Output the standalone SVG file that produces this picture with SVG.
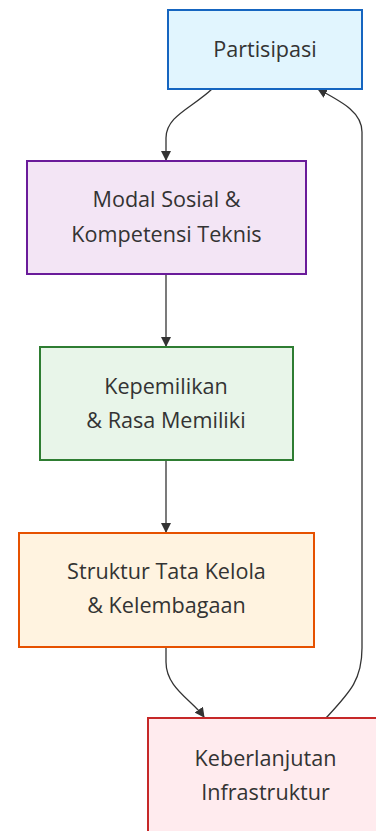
<svg xmlns="http://www.w3.org/2000/svg" width="376" height="831" viewBox="0 0 376 831">
<style>
.lbl{font-family:"Open Sans","Noto Sans","DejaVu Sans",sans-serif;font-size:21.6px;fill:#333;text-anchor:middle}
.edge{fill:none;stroke:#333;stroke-width:1.3}
.box{stroke-width:2}
</style>
<defs>
<marker id="arr" viewBox="0 0 10 10" refX="9" refY="5" markerWidth="10" markerHeight="10" markerUnits="userSpaceOnUse" orient="auto">
<path d="M0,0 L10,5 L0,10 z" fill="#333"/>
</marker>
</defs>
<rect width="376" height="831" fill="#ffffff"/>
<g id="edges">
<path class="edge" d="M212,89 C192,108 166,116 166,138 L166,160" marker-end="url(#arr)"/>
<path class="edge" d="M166,274 L166,346" marker-end="url(#arr)"/>
<path class="edge" d="M166,460 L166,532" marker-end="url(#arr)"/>
<path class="edge" d="M166,647 L166,662 C166,688 192,700 204,717" marker-end="url(#arr)"/>
<path class="edge" d="M326,718 C350,692 362,680 362,648 L362,132 C362,112 342,102 318,89" marker-end="url(#arr)"/>
</g>
<g id="n1">
<rect class="box" x="168" y="10" width="194" height="79" fill="#e1f5fe" stroke="#1565c0"/>
<text class="lbl" x="265" y="57">Partisipasi</text>
</g>
<g id="n2">
<rect class="box" x="27" y="161" width="279" height="113" fill="#f3e5f5" stroke="#6a1b9a"/>
<text class="lbl" x="166.5" y="207">Modal Sosial &amp;</text>
<text class="lbl" x="166.5" y="242">Kompetensi Teknis</text>
</g>
<g id="n3">
<rect class="box" x="40" y="347" width="253" height="113" fill="#e8f5e9" stroke="#2e7d32"/>
<text class="lbl" x="166" y="394">Kepemilikan</text>
<text class="lbl" x="166" y="428">&amp; Rasa Memiliki</text>
</g>
<g id="n4">
<rect class="box" x="19" y="533" width="295" height="114" fill="#fff3e0" stroke="#e65100"/>
<text class="lbl" x="166.5" y="579">Struktur Tata Kelola</text>
<text class="lbl" x="166.5" y="613">&amp; Kelembagaan</text>
</g>
<g id="n5">
<rect class="box" x="148" y="718" width="236" height="120" fill="#ffebee" stroke="#c62828"/>
<text class="lbl" x="265.5" y="766">Keberlanjutan</text>
<text class="lbl" x="265.5" y="800">Infrastruktur</text>
</g>
</svg>
